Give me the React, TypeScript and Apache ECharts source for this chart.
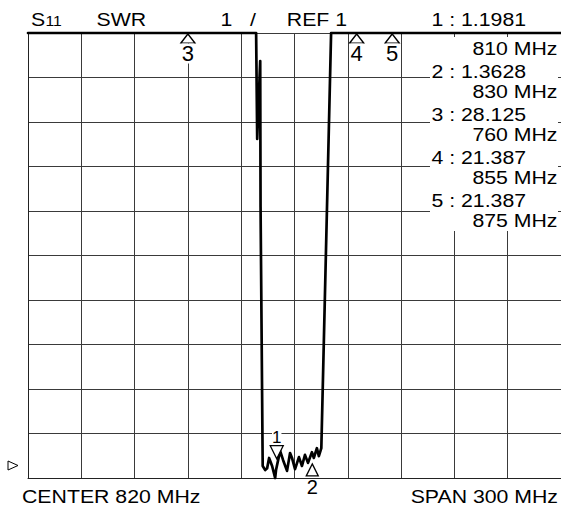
import React, { useEffect, useRef } from 'react';
import * as echarts from 'echarts';

// Instrument settings
const CENTER_MHZ = 820;
const SPAN_MHZ = 300;
const REF_SWR = 1;
const SWR_PER_DIV = 1;
const DIVISIONS = 10;

// Trace (values above the top of the screen shown at the top: 11)
const traceFreqMHz = [
  670, 798.4, 799.0, 800.7, 800.9, 802.1, 803.5, 804.6, 805.7, 807.4, 809.1, 809.6,
  811.9, 813.6, 815.8, 817.5, 818.6, 820.3, 822.5, 824.2, 825.9, 827.6, 829.8, 830.9,
  832.6, 833.7, 835.1, 840.6, 970,
];
const traceSWR = [
  11, 11, 8.62, 10.37, 7.09, 1.27, 1.18, 1.22, 1.45, 1.27, 1.0, 1.18,
  1.61, 1.4, 1.16, 1.56, 1.45, 1.2, 1.47, 1.27, 1.52, 1.34, 1.58, 1.45,
  1.67, 1.49, 1.67, 11, 11,
];

// Markers
const markerIds = [1, 2, 3, 4, 5];
const markerFreqMHz = [810, 830, 760, 855, 875];
const markerSWR = [1.1981, 1.3628, 28.125, 21.387, 21.387];

// Header labels
const paramName = 'S';
const paramSub = '11';
const formatName = 'SWR';
const channelText = '1';
const refText = 'REF 1';

const FONT = '"Liberation Sans", Arial, Helvetica, sans-serif';
const SX = 1.12;

function txt(text: string, x: number, y: number, size: number, align: string = 'left') {
  return {
    type: 'text',
    x,
    y,
    scaleX: SX,
    z: 20,
    silent: true,
    style: {
      text,
      font: `${size}px ${FONT}`,
      fill: '#000',
      align,
      textAlign: align,
      verticalAlign: 'middle',
      textVerticalAlign: 'middle',
    },
  };
}

export default function App() {
  const ref = useRef<HTMLDivElement>(null);

  useEffect(() => {
    if (!ref.current) return;
    const chart = echarts.init(ref.current, undefined, { renderer: 'svg' });
    const yMax = REF_SWR + DIVISIONS * SWR_PER_DIV;
    const half = SPAN_MHZ / 2;

    const traceData = traceFreqMHz.map((f, i) => [f - CENTER_MHZ, Math.min(traceSWR[i], yMax)]);

    const labelBase = {
      show: true,
      color: '#000',
      fontFamily: FONT,
      fontWeight: 'normal',
      textBorderWidth: 0,
      backgroundColor: '#fff',
    };

    const markerData = markerIds.map((id, i) => {
      const offScale = markerSWR[i] >= yMax;
      const val = [markerFreqMHz[i] - CENTER_MHZ, Math.min(markerSWR[i], yMax)];
      if (id === 1 && !offScale) {
        return {
          value: val,
          symbol: 'path://M0,0 L10,0 L5,10 Z',
          symbolSize: [13, 13],
          symbolOffset: [0, -17],
          label: { ...labelBase, position: 'top', distance: 0, formatter: String(id), fontSize: 17, lineHeight: 15 },
        };
      }
      if (offScale) {
        return {
          value: val,
          symbol: 'path://M5,0 L10,10 L0,10 Z',
          symbolSize: [14, 9],
          symbolOffset: [0, 5.5],
          label: {
            ...labelBase,
            position: 'bottom',
            distance: 0,
            formatter: String(id),
            fontSize: 22,
            lineHeight: 20,
          },
        };
      }
      return {
        value: val,
        symbol: 'path://M5,0 L10,10 L0,10 Z',
        symbolSize: [12, 12],
        symbolOffset: [0, 8],
        label: { ...labelBase, backgroundColor: 'transparent', position: 'bottom', distance: 0, formatter: String(id), fontSize: 20 },
      };
    });

    const graphics: any[] = [];
    // readout background
    graphics.push({
      type: 'rect',
      z: 15,
      silent: true,
      shape: { x: 430, y: 37, width: 128, height: 194 },
      style: { fill: '#fff' },
    });
    // header
    graphics.push(txt(paramName, 31, 19, 19));
    graphics.push(txt(paramSub, 45.5, 21, 14));
    graphics.push(txt(formatName, 96.5, 19, 19));
    graphics.push(txt(channelText, 220.5, 19, 19));
    graphics.push(txt('/', 250, 19, 19));
    graphics.push(txt(refText, 286.8, 19, 19));
    // marker readouts
    markerIds.forEach((id, i) => {
      const ly = i === 0 ? 19 : 71.7 + (i - 1) * 43;
      graphics.push(txt(`${id} : ${markerSWR[i].toPrecision(5)}`, 431.5, ly, 19));
      graphics.push(txt(`${markerFreqMHz[i]} MHz`, 557.5, 48.3 + i * 43, 19, 'right'));
    });
    // footer
    graphics.push(txt(`CENTER ${CENTER_MHZ} MHz`, 22, 496, 19));
    graphics.push(txt(`SPAN ${SPAN_MHZ} MHz`, 558, 496, 19, 'right'));
    // reference level pointer
    graphics.push({
      type: 'polygon',
      z: 20,
      silent: true,
      shape: { points: [[8, 461], [18, 465.5], [8, 470]] },
      style: { fill: '#fff', stroke: '#000', lineWidth: 1 },
    });

    const axisCommon = {
      axisLabel: { show: false },
      axisTick: { show: false },
      axisLine: { show: true, onZero: false, lineStyle: { color: '#222', width: 1 } },
      splitLine: { show: true, lineStyle: { color: '#3a3a3a', width: 1 } },
    };

    chart.setOption({
      animation: false,
      backgroundColor: '#fff',
      grid: { left: 28, top: 33, width: 535, height: 445, show: false },
      xAxis: {
        type: 'value',
        min: -half,
        max: half,
        interval: SPAN_MHZ / DIVISIONS,
        ...axisCommon,
      },
      yAxis: {
        type: 'value',
        min: REF_SWR,
        max: yMax,
        interval: SWR_PER_DIV,
        ...axisCommon,
      },
      series: [
        {
          type: 'line',
          data: traceData,
          showSymbol: false,
          symbol: 'none',
          clip: false,
          silent: true,
          z: 3,
          lineStyle: { color: '#000', width: 2.7, join: 'round', cap: 'round' },
        },
        {
          type: 'scatter',
          data: markerData,
          clip: false,
          silent: true,
          z: 5,
          itemStyle: { color: '#fff', borderColor: '#000', borderWidth: 1.3, opacity: 1 },
          label: { color: '#000', fontFamily: FONT },
        },
      ],
      graphic: graphics,
    });

    return () => chart.dispose();
  }, []);

  return (
    <div
      ref={ref}
      style={{ position: 'fixed', left: 0, top: 0, width: 561, height: 505, background: '#fff' }}
    />
  );
}
